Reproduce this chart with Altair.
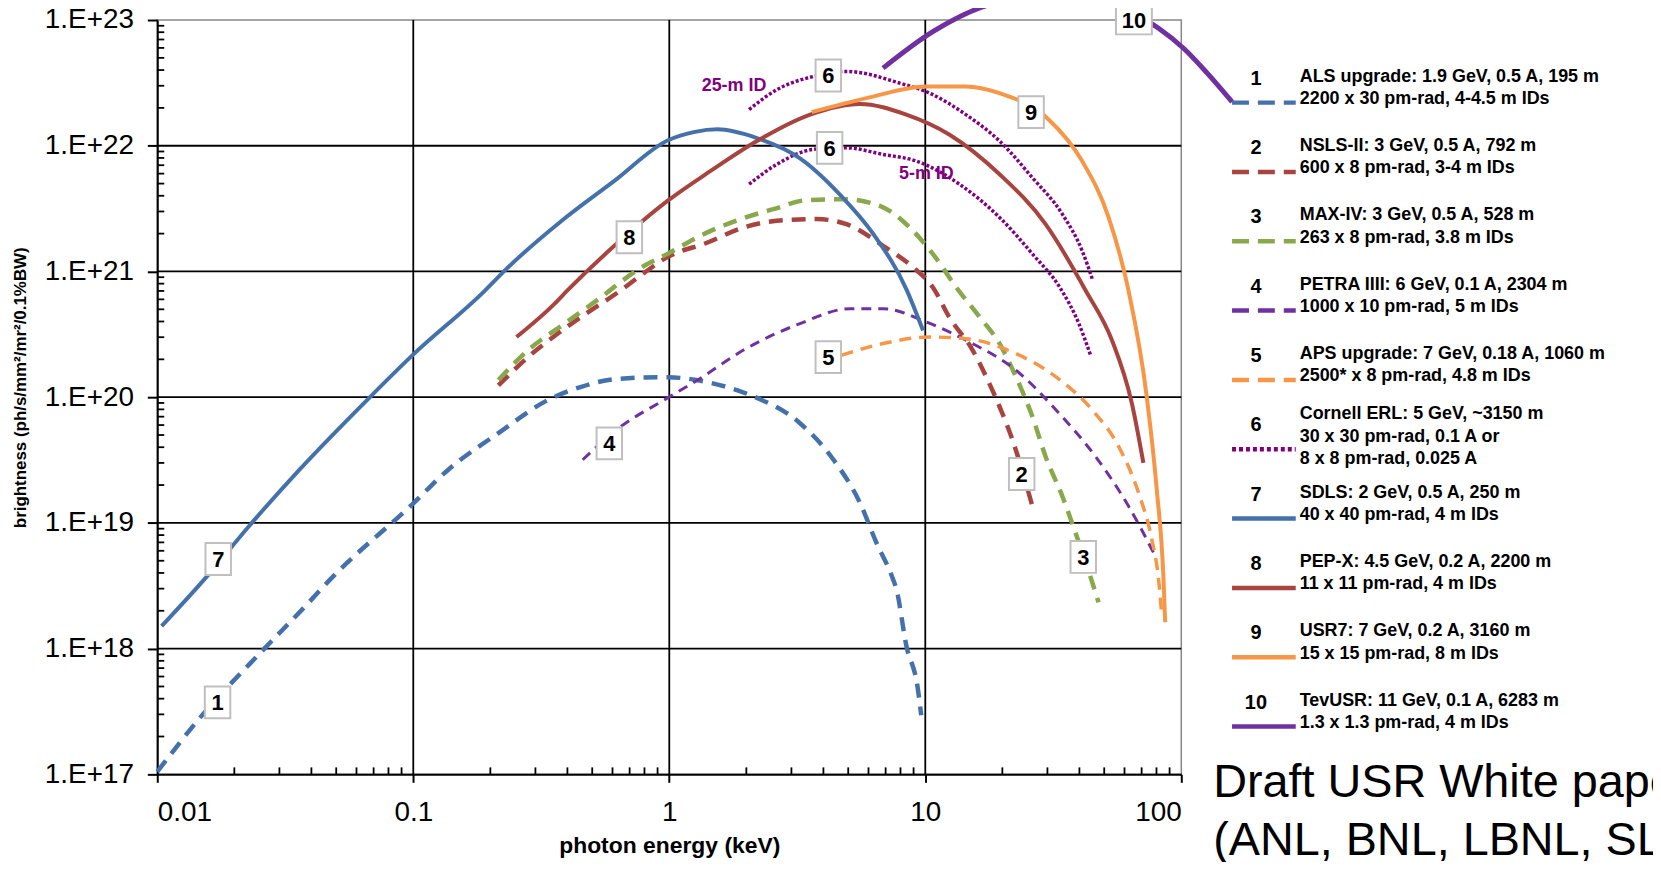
import altair as alt
import pandas as pd

FONT = "Liberation Sans"
W, H = 1029, 758

# ---------------- curve data: photon energy (keV) and brightness ----------------
als_E = [0.01, 0.0146, 0.0262, 0.038, 0.0475, 0.0989, 0.137, 0.215, 0.336, 0.453, 0.61, 0.9, 0.984,
         1.45, 2.07, 3.24, 4.38, 5.55, 6.44, 7.48, 7.71, 8.43, 9.35, 9.64]
als_B = [1.05e17, 2.78e17, 1.0e18, 2.19e18, 3.57e18, 1.40e19, 2.65e19, 5.18e19, 9.5e19, 1.21e20, 1.39e20,
         1.44e20, 1.44e20, 1.30e20, 1.04e20, 6.21e19, 3.18e19, 1.45e19, 6.97e18, 3.57e18, 2.98e18,
         1.06e18, 4.81e17, 2.95e17]

nsls_E = [0.215, 0.281, 0.367, 0.494, 0.647, 0.752, 0.984, 1.41, 1.95, 2.63, 3.77, 4.92, 6.84, 8.95,
          10.7, 12.4, 15.3, 17.3, 19.5, 21.9, 26.2]
nsls_B = [1.24e20, 2.09e20, 3.21e20, 4.90e20, 7.08e20, 8.91e20, 1.30e21, 1.70e21, 2.24e21, 2.53e21,
          2.61e21, 2.38e21, 1.60e21, 1.08e21, 7.5e20, 4.34e20, 2.37e20, 1.45e20, 8.41e19, 4.58e19, 1.36e19]

max_E = [0.215, 0.281, 0.39, 0.51, 0.798, 0.984, 1.32, 1.90, 2.55, 3.44, 4.79, 6.64, 8.69, 10.7, 13.2,
         16.3, 19.5, 22.6, 26.2, 29.5, 34.3, 38.6, 46.2, 47.5]
max_B = [1.37e20, 2.37e20, 3.85e20, 5.70e20, 1.11e21, 1.38e21, 1.92e21, 2.61e21, 3.13e21, 3.69e21,
         3.76e21, 3.33e21, 2.24e21, 1.38e21, 7.5e20, 4.34e20, 2.67e20, 1.45e20, 7.02e19, 3.38e19,
         1.63e19, 8.36e18, 2.80e18, 2.33e18]

petra_E = [0.459, 0.647, 0.955, 1.32, 1.95, 3.24, 5.08, 6.84, 10.1, 14.4, 22.6, 33.3, 46.2, 62.2, 79.1]
petra_B = [3.18e19, 5.85e19, 9.5e19, 1.41e20, 2.37e20, 3.85e20, 5.06e20, 5.06e20, 3.96e20, 2.84e20,
           1.64e20, 7.45e19, 3.38e19, 1.36e19, 5.46e18]

aps_E = [4.71, 6.84, 10.4, 14.4, 22.6, 32.4, 44.9, 56.9, 68.1, 76.7, 81.5, 84.0]
aps_B = [2.16e20, 2.67e20, 3.01e20, 2.92e20, 2.22e20, 1.45e20, 7.91e19, 4.06e19, 1.73e19, 7.4e18,
         3.57e18, 1.8e18]

erl25_E = [2.05, 2.63, 3.66, 4.92, 7.94, 10.4, 14.4, 19.5, 26.2, 34.3, 41.0, 44.9]
erl25_B = [1.94e22, 2.79e22, 3.56e22, 3.90e22, 3.15e22, 2.62e22, 1.77e22, 1.09e22, 5.57e21, 2.86e21,
           1.46e21, 8.73e20]

erl5_E = [2.05, 2.63, 3.66, 4.92, 6.84, 9.23, 13.6, 19.5, 26.2, 33.8, 39.8, 44.2]
erl5_B = [4.94e21, 7.11e21, 9.35e21, 9.62e21, 8.53e21, 7.55e21, 4.94e21, 2.69e21, 1.38e21, 7.28e20,
          3.85e20, 2.16e20]

sdls_E = [0.0104, 0.0153, 0.0229, 0.0358, 0.067, 0.0989, 0.191, 0.228, 0.378, 0.61, 0.984, 1.26, 1.54,
          2.2, 3.24, 4.65, 6.25, 8.43, 9.8]
sdls_B = [1.51e18, 3.57e18, 9.5e18, 2.63e19, 9.8e19, 2.14e20, 7.08e20, 1.02e21, 2.51e21, 5.25e21,
          1.10e22, 1.29e22, 1.35e22, 1.15e22, 7.94e21, 4.07e21, 2.0e21, 7.24e20, 3.39e20]

pepx_E = [0.253, 0.356, 0.40, 0.61, 0.984, 1.45, 2.2, 3.55, 5.55, 8.43, 12.4, 19.5, 29.5, 42.3, 53.6,
          64.1, 71.1]
pepx_B = [3.01e20, 5.53e20, 7.06e20, 1.60e21, 3.64e21, 6.30e21, 1.09e22, 1.77e22, 2.15e22, 1.77e22,
          1.23e22, 5.93e21, 2.38e21, 7.06e20, 2.84e20, 8.95e19, 3.0e19]

usr7_E = [3.6, 5.89, 10.1, 14.4, 19.5, 30.4, 41.0, 52.0, 62.2, 73.3, 80.2, 85.1, 86.5]
usr7_B = [1.85e22, 2.39e22, 2.96e22, 2.96e22, 2.62e22, 1.61e22, 7.55e21, 2.69e21, 7.06e20, 1.01e20,
          1.84e19, 3.79e18, 1.62e18]

tev_E = [6.84, 10.7, 16.7, 28.2, 49.0, 81.5, 102, 126, 158]
tev_B = [4.14e22, 8.07e22, 1.27e23, 1.55e23, 1.40e23, 8.59e22, 5.96e22, 3.80e22, 2.23e22]

# ---------------- in-plot number boxes ----------------
box_text = ["7", "1", "8", "4", "6", "6", "9", "5", "2", "3"]
box_E = [0.0173, 0.0172, 0.698, 0.583, 4.18, 4.23, 25.9, 4.18, 23.8, 41.4]
box_B = [5.16e18, 3.74e17, 1.87e21, 4.29e19, 3.62e22, 9.62e21, 1.85e22, 2.08e20, 2.45e19, 5.36e18]
box10_text = ["10"]
box10_E = [65.3]
box10_B = [1.0e23]

id_text = ["25-m ID", "5-m ID"]
id_E = [1.79, 10.1]
id_B = [2.96e22, 5.93e21]

# ---------------- legend ----------------
leg_num = ["1", "2", "3", "4", "5", "6", "7", "8", "9", "10"]
leg_text = [
    "ALS upgrade: 1.9 GeV, 0.5 A, 195 m\n2200 x 30 pm-rad, 4-4.5 m IDs",
    "NSLS-II: 3 GeV, 0.5 A,  792 m\n600 x 8 pm-rad, 3-4 m IDs",
    "MAX-IV: 3 GeV, 0.5 A, 528 m\n263 x 8 pm-rad, 3.8 m IDs",
    "PETRA IIII: 6 GeV, 0.1 A, 2304 m\n1000 x 10 pm-rad, 5 m IDs",
    "APS upgrade: 7 GeV, 0.18 A, 1060 m\n2500* x 8 pm-rad, 4.8 m IDs",
    "Cornell ERL:  5 GeV, ~3150 m\n30 x 30 pm-rad, 0.1 A or\n8 x 8 pm-rad, 0.025 A",
    "SDLS: 2 GeV, 0.5 A, 250 m\n40 x 40 pm-rad, 4 m IDs",
    "PEP-X: 4.5 GeV, 0.2 A, 2200 m\n11 x 11 pm-rad, 4 m IDs",
    "USR7: 7 GeV, 0.2 A, 3160 m\n15 x 15 pm-rad, 8 m IDs",
    "TevUSR: 11 GeV, 0.1 A, 6283 m\n1.3 x 1.3 pm-rad, 4 m IDs",
]

BLUE, RED, GREEN, PURPLE, ORANGE, DOT = "#4571AB", "#A8443F", "#88A84B", "#7030A0", "#F79646", "#800080"
leg_color = [BLUE, RED, GREEN, PURPLE, ORANGE, DOT, BLUE, RED, ORANGE, PURPLE]

# ---------------- scales / axes ----------------
xs = alt.Scale(type="log", domain=[0.01, 100], nice=False)
ys = alt.Scale(type="log", domain=[1e17, 1e23], nice=False)

xaxis = alt.Axis(values=[0.01, 0.1, 1, 10, 100], labelExpr="format(datum.value, '~g')",
                 grid=False, tickSize=8, tickWidth=2, tickColor="black", domainColor="black",
                 domainWidth=2, labelFont=FONT, labelFontSize=28, labelColor="black", labelPadding=16,
                 titleFont=FONT, titleFontSize=23, titleFontWeight="bold", titleColor="black",
                 titleY=79, titleBaseline="alphabetic")
yaxis = alt.Axis(values=[1e17, 1e18, 1e19, 1e20, 1e21, 1e22, 1e23],
                 labelExpr="'1.E+' + round(log(datum.value) / LN10)",
                 grid=False, tickSize=10, tickWidth=2, tickColor="black", domainColor="black",
                 domainWidth=2, labelFont=FONT, labelFontSize=28, labelColor="black", labelPadding=14,
                 titleFont=FONT, titleFontSize=17, titleFontWeight="bold", titleColor="black",
                 titleAngle=270, titleX=-137, titleY=369, titleAlign="center", titleBaseline="middle")

XT = "photon energy (keV)"
YT = "brightness (ph/s/mm²/mr²/0.1%BW)"


def X(field="E"):
    return alt.X(f"{field}:Q", scale=xs, axis=xaxis, title=XT)


def Y(field="B"):
    return alt.Y(f"{field}:Q", scale=ys, axis=yaxis, title=YT)


layers = []

# major grid lines (inside the frame)
layers.append(alt.Chart(pd.DataFrame({"E": [0.1, 1, 10]})).mark_rule(color="black", strokeWidth=1.8)
              .encode(x=X()))
layers.append(alt.Chart(pd.DataFrame({"B": [1e18, 1e19, 1e20, 1e21, 1e22]}))
              .mark_rule(color="black", strokeWidth=1.8).encode(y=Y()))

# minor ticks (inside)
x_minor = [m * 10.0 ** k for k in range(-2, 2) for m in range(2, 10)]
y_minor = [m * 10.0 ** k for k in range(17, 23) for m in range(2, 10)]
layers.append(alt.Chart(pd.DataFrame({"E": x_minor})).mark_rule(color="black", strokeWidth=1.8)
              .encode(x=X(), y=alt.value(H), y2=alt.value(H - 7)))
layers.append(alt.Chart(pd.DataFrame({"B": y_minor})).mark_rule(color="black", strokeWidth=1.8)
              .encode(y=Y(), x=alt.value(0), x2=alt.value(7)))

series = [
    (als_E, als_B, dict(color=BLUE, strokeWidth=4.5, strokeDash=[14, 9])),
    (nsls_E, nsls_B, dict(color=RED, strokeWidth=4.5, strokeDash=[14, 9])),
    (max_E, max_B, dict(color=GREEN, strokeWidth=4.5, strokeDash=[14, 9])),
    (petra_E, petra_B, dict(color=PURPLE, strokeWidth=3, strokeDash=[10, 7])),
    (aps_E, aps_B, dict(color=ORANGE, strokeWidth=3.5, strokeDash=[12, 8])),
    (erl25_E, erl25_B, dict(color=DOT, strokeWidth=3.5, strokeDash=[3, 2])),
    (erl5_E, erl5_B, dict(color=DOT, strokeWidth=3.5, strokeDash=[3, 2])),
    (sdls_E, sdls_B, dict(color=BLUE, strokeWidth=4)),
    (pepx_E, pepx_B, dict(color=RED, strokeWidth=4)),
    (usr7_E, usr7_B, dict(color=ORANGE, strokeWidth=4)),
    (tev_E, tev_B, dict(color=PURPLE, strokeWidth=5)),
]
for E, B, st in series:
    df = pd.DataFrame({"E": E, "B": B, "i": list(range(len(E)))})
    layers.append(alt.Chart(df).mark_line(interpolate="monotone", clip=False, **st)
                  .encode(x=X(), y=Y(), order="i:Q"))

# number boxes
bdf = pd.DataFrame({"E": box_E, "B": box_B, "t": box_text})
b10 = pd.DataFrame({"E": box10_E, "B": box10_B, "t": box10_text})
layers.append(alt.Chart(bdf).mark_point(shape="M-0.8,-1L0.8,-1L0.8,1L-0.8,1Z", size=1024, filled=True,
                                        fill="white", stroke="#BFBFBF", strokeWidth=2, opacity=1)
              .encode(x=X(), y=Y()))
layers.append(alt.Chart(b10).mark_point(shape="M-1,-0.8L1,-0.8L1,0.8L-1,0.8Z", size=1300, filled=True,
                                        fill="white", stroke="#BFBFBF", strokeWidth=2, opacity=1, clip=False)
              .encode(x=X(), y=Y()))
for d in (bdf, b10):
    layers.append(alt.Chart(d).mark_text(font=FONT, fontSize=22, fontWeight="bold", color="black",
                                         align="center", baseline="middle", dy=1, clip=False)
                  .encode(x=X(), y=Y(), text="t:N"))

layers.append(alt.Chart(pd.DataFrame({"E": id_E, "B": id_B, "t": id_text}))
              .mark_text(font=FONT, fontSize=18, fontWeight="bold", color=DOT, align="center",
                         baseline="middle")
              .encode(x=X(), y=Y(), text="t:N"))

main = alt.layer(*layers)

# ---------------- legend panel (own scales, right of the plot) ----------------
lx = alt.Scale(domain=[0, 1], range=[1080, 1144])
ly = alt.Scale(domain=[0, 9], range=[83, 710])
ldf = pd.DataFrame({"slot": list(range(10)), "num": leg_num, "txt": leg_text, "col": leg_color})
ldf2 = ldf[ldf["txt"].str.count("\n") == 1]
ldf3 = ldf[ldf["txt"].str.count("\n") == 2]

LX = alt.X("a:Q", scale=lx, axis=None)
LY = alt.Y("slot:Q", scale=ly, axis=None)


def leg_line(rows, **st):
    return (alt.Chart(ldf.iloc[rows]).transform_calculate(a="0", b="1")
            .mark_rule(strokeWidth=4.5, **st)
            .encode(x=LX, x2=alt.X2("b:Q"), y=LY, color=alt.Color("col:N", scale=None)))


def leg_text_layer(d, dy):
    return (alt.Chart(d).transform_calculate(a="1")
            .mark_text(font=FONT, fontSize=18, fontWeight="bold", color="black", align="left",
                       baseline="middle", dx=4, dy=dy, lineBreak="\n", lineHeight=22.5)
            .encode(x=LX, y=LY, text="txt:N"))


leg_layers = [
    leg_line(slice(0, 5), strokeDash=[17, 9]),
    leg_line(slice(5, 6), strokeDash=[4, 3]),
    leg_line(slice(6, 10)),
    alt.Chart(ldf).transform_calculate(a="0")
    .mark_text(font=FONT, fontSize=20, fontWeight="bold", color="black", align="center",
               baseline="middle", dx=24, dy=-24)
    .encode(x=LX, y=LY, text="num:N"),
    leg_text_layer(ldf2, -26),
    leg_text_layer(ldf3, -35),
    alt.Chart(pd.DataFrame({"t": ["Draft USR White paper\n(ANL, BNL, LBNL, SLAC)"]}))
    .mark_text(font=FONT, fontSize=47, color="black", align="left", baseline="alphabetic",
               lineBreak="\n", lineHeight=58)
    .encode(x=alt.value(1061), y=alt.value(781), text="t:N"),
]
legend = alt.layer(*leg_layers)

chart = (alt.layer(main, legend)
         .resolve_scale(x="independent", y="independent", color="independent")
         .properties(width=W, height=H,
                     padding={"left": 150, "top": 10, "right": 474, "bottom": 86},
                     autosize=alt.AutoSizeParams(type="none"),
                     background="white")
         .configure_view(stroke="#868686", strokeWidth=1.5))

chart.save("out.html", embed_options={"renderer": "svg", "actions": False})
